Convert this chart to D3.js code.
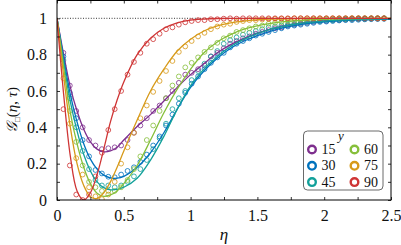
<!DOCTYPE html>
<html><head><meta charset="utf-8">
<script src="https://cdn.jsdelivr.net/npm/d3@7"></script>
<style>
html,body{margin:0;padding:0;background:#fff;}
svg{display:block;}
</style></head>
<body>
<script>
// ---- data ----
const seriesNames = ["15","30","45","60","75","90"];
const seriesColors = ["#7E2F8E","#0072BD","#12A09A","#86BF3A","#D79A1A","#CF3535"];

// eta positions of the measured points (circles)
const etaData = [0.048,0.096,0.144,0.192,0.240,0.288,0.336,0.384,0.432,0.480,0.528,0.576,0.624,0.672,0.720,0.768,0.816,0.864,0.912,0.960,1.008,1.056,1.104,1.152,1.200,1.248,1.296,1.344,1.392,1.440,1.488,1.536,1.584,1.632,1.680,1.728,1.776,1.824,1.872,1.920,1.968,2.016,2.064,2.112,2.160,2.208,2.256,2.304,2.352,2.400,2.448];

const data15 = [0.81,0.63,0.49,0.40,0.33,0.30,0.28,0.285,0.29,0.30,0.33,0.37,0.41,0.45,0.49,0.52,0.56,0.60,0.645,0.69,0.70,0.72,0.74,0.79,0.81,0.835,0.86,0.875,0.89,0.90,0.915,0.925,0.935,0.945,0.95,0.96,0.965,0.97,0.975,0.98,0.985,0.985,0.99,0.99,0.993,0.995,0.996,0.997,0.998,0.998,0.999];
const data30 = [0.79,0.59,0.45,0.33,0.24,0.165,0.146,0.128,0.125,0.14,0.16,0.18,0.21,0.25,0.30,0.35,0.41,0.47,0.53,0.59,0.64,0.68,0.72,0.755,0.785,0.81,0.84,0.86,0.875,0.89,0.905,0.915,0.925,0.935,0.945,0.955,0.96,0.965,0.97,0.975,0.98,0.982,0.985,0.988,0.99,0.99,0.992,0.994,0.995,0.996,0.997];
const data45 = [0.77,0.56,0.40,0.27,0.17,0.11,0.08,0.08,0.07,0.08,0.10,0.13,0.17,0.22,0.28,0.34,0.42,0.50,0.56,0.60,0.66,0.71,0.75,0.79,0.82,0.86,0.88,0.895,0.91,0.92,0.93,0.94,0.95,0.955,0.96,0.965,0.97,0.975,0.98,0.985,0.985,0.99,0.99,0.993,0.995,0.997,0.998,0.998,0.999,1.0,1.0];
const data60 = [0.74,0.49,0.32,0.19,0.10,0.07,0.05,0.05,0.05,0.07,0.11,0.17,0.24,0.33,0.41,0.49,0.56,0.63,0.68,0.73,0.755,0.785,0.815,0.84,0.865,0.89,0.905,0.925,0.935,0.945,0.955,0.96,0.97,0.975,0.98,0.985,0.985,0.99,0.99,0.993,0.995,0.997,0.998,0.998,0.999,1.0,1.0,1.0,1.0,1.0,1.0];
const data75 = [0.67,0.42,0.23,0.14,0.07,0.02,0.005,0.03,0.10,0.20,0.29,0.37,0.45,0.52,0.595,0.655,0.71,0.765,0.815,0.845,0.875,0.90,0.92,0.94,0.955,0.965,0.97,0.98,0.985,0.99,0.99,0.993,0.995,0.997,0.998,0.998,1.0,1.0,1.0,1.0,1.0,1.0,1.0,1.0,1.0,1.0,1.0,1.0,1.0,1.0,1.0];
const data90 = [0.50,0.19,0.03,0.0,0.03,0.13,0.26,0.385,0.50,0.60,0.69,0.76,0.81,0.86,0.885,0.915,0.94,0.95,0.965,0.978,0.985,0.99,0.99,0.995,0.995,0.998,1.0,0.998,1.0,1.0,1.0,1.0,1.0,1.0,1.0,1.0,1.0,1.0,1.0,1.0,1.0,1.0,1.0,1.0,1.0,1.0,1.0,1.0,1.0,1.0,1.0];

// eta knots of the model curves (solid lines)
const etaLine = [0,0.05,0.1,0.15,0.2,0.25,0.3,0.35,0.4,0.45,0.5,0.6,0.7,0.8,0.9,1.0,1.1,1.2,1.3,1.4,1.6,1.8,2.0,2.25,2.5];
const line15 = [1,0.80,0.62,0.49,0.39,0.32,0.28,0.265,0.27,0.29,0.33,0.405,0.47,0.545,0.62,0.69,0.75,0.81,0.855,0.89,0.94,0.97,0.985,0.995,0.998];
const line30 = [1,0.78,0.58,0.43,0.31,0.225,0.17,0.137,0.122,0.12,0.13,0.18,0.26,0.37,0.50,0.62,0.71,0.78,0.835,0.875,0.93,0.963,0.98,0.991,0.996];
const line45 = [1,0.76,0.54,0.38,0.25,0.16,0.10,0.068,0.056,0.058,0.07,0.12,0.22,0.35,0.50,0.63,0.72,0.79,0.845,0.885,0.94,0.97,0.985,0.994,0.998];
const line60 = [1,0.73,0.48,0.31,0.18,0.09,0.037,0.02,0.028,0.05,0.09,0.19,0.33,0.48,0.61,0.72,0.81,0.87,0.91,0.94,0.972,0.987,0.994,0.998,1];
const line75 = [1,0.68,0.40,0.20,0.08,0.018,0.008,0.04,0.10,0.18,0.27,0.44,0.60,0.72,0.82,0.885,0.93,0.958,0.975,0.985,0.995,0.998,1,1,1];
const line90 = [1,0.58,0.24,0.05,0,0.04,0.14,0.28,0.43,0.55,0.65,0.80,0.89,0.945,0.975,0.99,0.996,0.999,1,1,1,1,1,1,1];

const xTickLabels = ["0","0.5","1","1.5","2","2.5"];
const yTickLabels = ["0","0.2","0.4","0.6","0.8","1"];
const legendTitle = "y";

const dataSets = [data15,data30,data45,data60,data75,data90];
const lineSets = [line15,line30,line45,line60,line75,line90];

// ---- layout ----
const FONT = "Liberation Serif";
const W = 401, H = 245;
const m = {left:57, right:10, top:0.5, bottom:45};
const pw = W - m.left - m.right, ph = H - m.top - m.bottom;

const svg = d3.select("body").append("svg").attr("width",W).attr("height",H)
  .attr("font-family",FONT);
const x = d3.scaleLinear().domain([0,2.5]).range([m.left, m.left+pw]);
const y = d3.scaleLinear().domain([0,1.098]).range([m.top+ph, m.top]);

svg.append("clipPath").attr("id","clip").append("rect")
  .attr("x",x(0)).attr("y",y(1.098)).attr("width",pw).attr("height",ph);

// dotted reference line at 1
svg.append("line").attr("x1",x(0)).attr("x2",x(2.5)).attr("y1",y(1)).attr("y2",y(1))
  .attr("stroke","#000").attr("stroke-width",0.8).attr("stroke-dasharray","1,1.6");

const g = svg.append("g").attr("clip-path","url(#clip)");
const lineGen = d3.line().x(d=>x(d[0])).y(d=>y(d[1])).curve(d3.curveCatmullRom.alpha(0.5));

seriesNames.forEach((name,i)=>{
  const col = seriesColors[i];
  g.append("g").selectAll("circle").data(etaData.map((e,j)=>[e,dataSets[i][j]])).join("circle")
    .attr("cx",d=>x(d[0])).attr("cy",d=>y(d[1])).attr("r",2.4)
    .attr("fill","none").attr("stroke",col).attr("stroke-width",0.9).attr("opacity",0.9);
});
seriesNames.forEach((name,i)=>{
  g.append("path").datum(etaLine.map((e,j)=>[e,lineSets[i][j]]))
    .attr("d",lineGen).attr("fill","none").attr("stroke",seriesColors[i]).attr("stroke-width",1.3);
});

// axes
const fs = 16;
const xAxisB = d3.axisBottom(x).tickValues(d3.range(0,2.501,0.25)).tickSize(-3)
  .tickFormat(d=>{const k=Math.round(d/0.5*1000)/1000; return Number.isInteger(k)?xTickLabels[k]:"";}).tickPadding(10);
const gxb = svg.append("g").attr("transform",`translate(0,${y(0)})`).call(xAxisB);
const xAxisT = d3.axisTop(x).tickValues(d3.range(0,2.501,0.25)).tickSize(-3).tickFormat("");
const gxt = svg.append("g").attr("transform",`translate(0,${y(1.098)})`).call(xAxisT);
const yAxisL = d3.axisLeft(y).tickValues(d3.range(0,1.001,0.1)).tickSize(-3)
  .tickFormat(d=>{const k=Math.round(d*10); return k%2===0?yTickLabels[k/2]:"";}).tickPadding(10);
const gyl = svg.append("g").attr("transform",`translate(${x(0)},0)`).call(yAxisL);
const yAxisR = d3.axisRight(y).tickValues(d3.range(0,1.001,0.1)).tickSize(-3).tickFormat("");
const gyr = svg.append("g").attr("transform",`translate(${x(2.5)},0)`).call(yAxisR);
[gxb,gxt,gyl,gyr].forEach(a=>{
  a.attr("font-family",FONT).attr("font-size",fs);
  a.select(".domain").remove();
  a.selectAll(".tick line").attr("stroke","#000").attr("stroke-width",0.8);
  a.selectAll("text").attr("font-family",FONT).attr("font-size",fs).attr("fill","#111");
});
// frame
svg.append("rect").attr("x",x(0)).attr("y",y(1.098)).attr("width",pw).attr("height",ph)
  .attr("fill","none").attr("stroke","#000").attr("stroke-width",1);

// axis labels
svg.append("text").attr("x",(x(0)+x(2.5))/2).attr("y",240).attr("text-anchor","middle")
  .attr("font-family",FONT).attr("font-size",17).attr("font-style","italic").attr("fill","#111").text("η");
const yl = svg.append("text").attr("transform","translate(17,110) rotate(-90)").attr("text-anchor","middle")
  .attr("font-family",FONT).attr("font-size",15).attr("fill","#111");
yl.append("tspan").attr("font-style","italic").text("𝒢");
yl.append("tspan").attr("font-size",8).attr("dy",3).text("□");
yl.append("tspan").attr("dy",-3).text("(");
yl.append("tspan").attr("font-style","italic").text("η");
yl.append("tspan").text(", ");
yl.append("tspan").attr("font-style","italic").text("τ");
yl.append("tspan").text(")");

// legend
const lg = svg.append("g");
lg.append("rect").attr("x",303.5).attr("y",131).attr("width",79.5).attr("height",59).attr("rx",4)
  .attr("fill","#fff").attr("stroke","#444").attr("stroke-width",0.8);
lg.append("text").attr("x",341).attr("y",140).attr("text-anchor","middle")
  .attr("font-family",FONT).attr("font-size",13).attr("font-style","italic").attr("fill","#111").text(legendTitle);
seriesNames.forEach((name,i)=>{
  const col = Math.floor(i/3), row = i%3;
  const cx = col===0 ? 312 : 354.5, cy = 149.5 + row*16.3;
  lg.append("circle").attr("cx",cx).attr("cy",cy).attr("r",3.8).attr("fill","none")
    .attr("stroke",seriesColors[i]).attr("stroke-width",2.4);
  lg.append("text").attr("x",cx+9.5).attr("y",cy+4.5)
    .attr("font-family",FONT).attr("font-size",14).attr("fill","#111").text(name);
});
</script>
</body></html>
